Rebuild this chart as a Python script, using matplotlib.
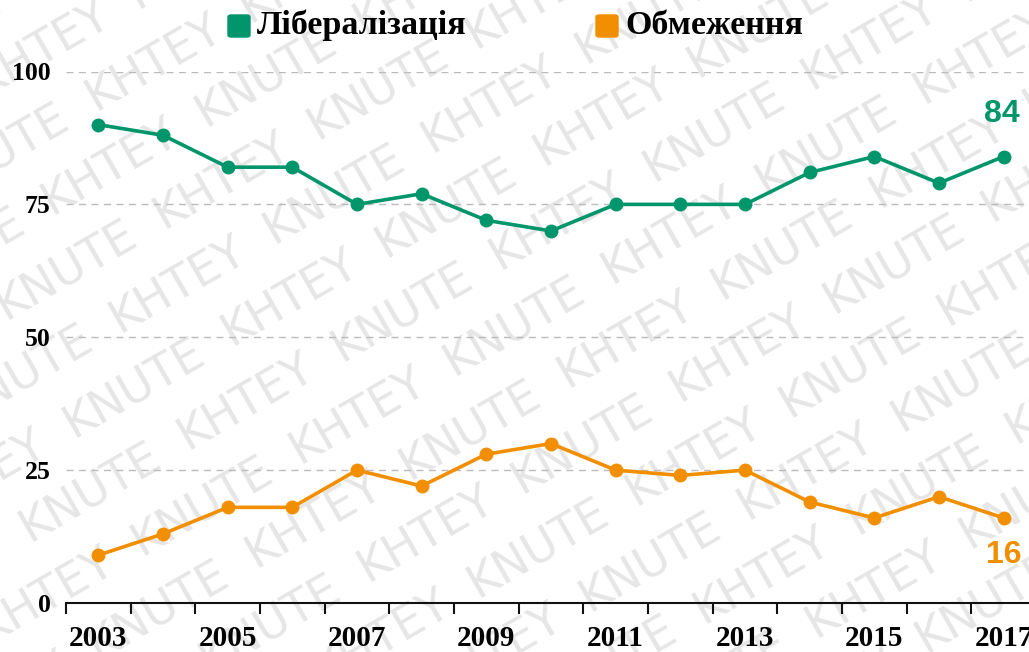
import matplotlib
matplotlib.use("Agg")
import matplotlib.pyplot as plt
import numpy as np

years = list(range(2003, 2018))
lib = [90, 88, 82, 82, 75, 77, 72, 70, 75, 75, 75, 81, 84, 79, 84]
obm = [9, 13, 18, 18, 25, 22, 28, 30, 25, 24, 25, 19, 16, 20, 16]
yticks = [0, 25, 50, 75, 100]
watermark = ['KNUTE', 'KHTEY']
green = '#00956a'
orange = '#f28f00'

plt.rcParams['font.family'] = ['Liberation Serif', 'DejaVu Serif']

fig = plt.figure(figsize=(10.29, 6.52), dpi=100)

# watermark, one word at a time along slanted rows
wm = fig.add_axes([0, 0, 1, 1], zorder=0)
wm.set_axis_off()
wm.set_xlim(0, 1029)
wm.set_ylim(652, 0)
ang = np.deg2rad(30)
d = np.array([np.cos(ang), -np.sin(ang)])
p = np.array([np.sin(ang), np.cos(ang)])
for k in range(-10, 11):
    for j in range(-8, 9):
        c = np.array([514, 326]) + k * 68 * p + (j + 0.5 * (k % 2)) * 180 * d
        if -90 < c[0] < 1120 and -50 < c[1] < 700:
            wm.text(c[0], c[1], watermark[(j + k) % 2], rotation=30,
                    rotation_mode='anchor', fontsize=33, color='#e6e6e6',
                    family='DejaVu Sans', ha='center', va='center')

ax = fig.add_axes([66 / 1029, 49 / 652, 970 / 1029, 531.5 / 652], zorder=1)
ax.patch.set_alpha(0)
x = np.arange(len(years))

ax.plot(x, lib, color=green, lw=2.6, marker='o', ms=9, zorder=3)
ax.plot(x, obm, color=orange, lw=2.6, marker='o', ms=9, zorder=3)

ax.set_xlim(-0.5, len(years) - 0.5)
ax.set_ylim(0, 100)
for v in yticks[1:]:
    ax.axhline(v, color='#bbbbbb', lw=1, ls=(0, (5, 4)), zorder=1)

for s in ['top', 'right', 'left']:
    ax.spines[s].set_visible(False)
ax.spines['bottom'].set_linewidth(1.5)
ax.spines['bottom'].set_color('#111111')

ax.set_xticks(np.arange(-0.5, len(years), 1))
ax.set_xticklabels([])
ax.tick_params(axis='x', which='major', length=8, width=1.5, color='#111111')
ax.set_xticks(x[::2], minor=True)
ax.set_xticklabels([str(y) for y in years[::2]], minor=True,
                   fontsize=21, fontweight='bold')
ax.tick_params(axis='x', which='minor', length=0, pad=16)

ax.set_yticks(yticks)
ax.set_yticklabels([str(v) for v in yticks], fontsize=18.5, fontweight='bold')
ax.tick_params(axis='y', length=0, pad=11)

ax.text(x[-1] + 0.25, lib[-1] + 5.2, str(lib[-1]), color=green, fontsize=23,
        fontweight='bold', family=['Liberation Sans', 'DejaVu Sans'],
        ha='right', va='bottom')
ax.text(x[-1] + 0.28, obm[-1] - 4.2, str(obm[-1]), color=orange, fontsize=23,
        fontweight='bold', family=['Liberation Sans', 'DejaVu Sans'],
        ha='right', va='top')

# legend
for lx, col, lab in [(228, green, 'Лібералізація'), (596, orange, 'Обмеження')]:
    fig.patches.append(matplotlib.patches.FancyBboxPatch(
        (lx / 1029, 1 - 37 / 652), 22 / 1029, 22 / 652,
        boxstyle='round,pad=0,rounding_size=0.003', transform=fig.transFigure,
        color=col, zorder=5))
    fig.text((lx + 29) / 1029, 1 - 25 / 652, lab, fontsize=24.5,
             fontweight='bold', va='center', ha='left')

fig.savefig('out.png', dpi=100)
